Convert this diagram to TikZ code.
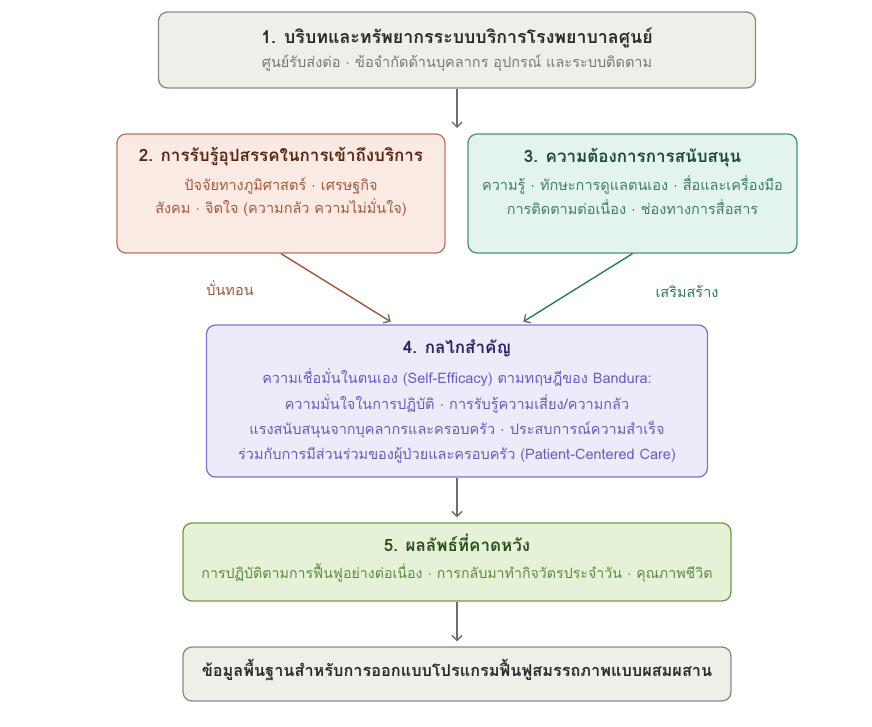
\documentclass[tikz,border=0pt]{standalone}
\usepackage{fontspec}
\newfontfamily\thaifont[Script=Thai]{Loma}
\newfontfamily\dotfont{Liberation Sans}
\newcommand{\mdot}{{\dotfont ·}}
\usetikzlibrary{positioning,arrows.meta}

\definecolor{greyfill}{HTML}{F0EEE8}
\definecolor{greyline}{HTML}{8C8A86}
\definecolor{greytext}{HTML}{7A7875}
\definecolor{darktext}{HTML}{2B2B2B}
\definecolor{redfill}{HTML}{FBEAE4}
\definecolor{redline}{HTML}{B9765E}
\definecolor{redtext}{HTML}{A5583A}
\definecolor{redtitle}{HTML}{5C2616}
\definecolor{greenfill}{HTML}{E2F4EC}
\definecolor{greenline}{HTML}{4A9275}
\definecolor{greentext}{HTML}{3F8063}
\definecolor{greentitle}{HTML}{1F4A38}
\definecolor{violetfill}{HTML}{EDEBFA}
\definecolor{violetline}{HTML}{7E74D0}
\definecolor{violettext}{HTML}{6A5BC0}
\definecolor{violettitle}{HTML}{2D2563}
\definecolor{limefill}{HTML}{E5F2D8}
\definecolor{limeline}{HTML}{6E9A4E}
\definecolor{limetext}{HTML}{5E8A3E}
\definecolor{limetitle}{HTML}{2F4F1F}
\definecolor{arrowgrey}{HTML}{6E6E6E}
\definecolor{redarrow}{HTML}{A0543A}
\definecolor{greenarrow}{HTML}{2D7A5A}

\tikzset{
  box/.style = {shape = rectangle, rounded corners = 9pt, line width = 1.3pt, inner sep = 0pt},
  ttl/.style = {font = \thaifont\bfseries\fontsize{17}{20}\selectfont, anchor = mid},
  txt/.style = {font = \thaifont\fontsize{14.5}{18}\selectfont, anchor = mid},
  link/.style = {line width = 1.4pt, -{Straight Barb[length=5pt, width=10pt, color=arrowgrey]}, shorten >= 5pt}
}

\begin{document}
\begin{tikzpicture}[x = 1pt, y = -1pt]
\useasboundingbox (0,0) rectangle (872,726);

% boxes
\node[box, draw = greyline, fill = greyfill, minimum width = 597pt, minimum height = 76pt] (b1) at (457,50) {};
\node[box, draw = redline, fill = redfill, minimum width = 328pt, minimum height = 119pt] (b2) at (281,193.5) {};
\node[box, draw = greenline, fill = greenfill, minimum width = 329pt, minimum height = 119pt] (b3) at (632.5,193.5) {};
\node[box, draw = violetline, fill = violetfill, minimum width = 501pt, minimum height = 152pt] (b4) at (457,401) {};
\node[box, draw = limeline, fill = limefill, minimum width = 548pt, minimum height = 78pt] (b5) at (457,562) {};
\node[box, draw = greyline, fill = greyfill, minimum width = 548pt, minimum height = 54pt] (b6) at (457,674) {};

% texts
\node[ttl, text = darktext, font = \thaifont\bfseries\fontsize{17.8}{20}\selectfont] (t1) at (457,41) {1. บริบทและทรัพยากรระบบบริการโรงพยาบาลศูนย์};
\node[txt, text = greytext] (s1) at (457,65) {ศูนย์รับส่งต่อ \mdot{} ข้อจำกัดด้านบุคลากร อุปกรณ์ และระบบติดตาม};

\node[ttl, text = redtitle] (t2) at (281,159) {2. การรับรู้อุปสรรคในการเข้าถึงบริการ};
\node[txt, text = redtext] (s2a) at (281,188) {ปัจจัยทางภูมิศาสตร์ \mdot{} เศรษฐกิจ};
\node[txt, text = redtext] (s2b) at (281,211) {สังคม \mdot{} จิตใจ (ความกลัว ความไม่มั่นใจ)};

\node[ttl, text = greentitle] (t3) at (632.5,160) {3. ความต้องการการสนับสนุน};
\node[txt, text = greentext] (s3a) at (632.5,188) {ความรู้ \mdot{} ทักษะการดูแลตนเอง \mdot{} สื่อและเครื่องมือ};
\node[txt, text = greentext] (s3b) at (632.5,212) {การติดตามต่อเนื่อง \mdot{} ช่องทางการสื่อสาร};

\node[ttl, text = violettitle] (t4) at (457,351) {4. กลไกสำคัญ};
\node[txt, text = violettext] (s4a) at (457,381) {ความเชื่อมั่นในตนเอง (Self-Efficacy) ตามทฤษฎีของ Bandura:};
\node[txt, text = violettext] (s4b) at (457,407) {ความมั่นใจในการปฏิบัติ \mdot{} การรับรู้ความเสี่ยง/ความกลัว};
\node[txt, text = violettext] (s4c) at (457,432) {แรงสนับสนุนจากบุคลากรและครอบครัว \mdot{} ประสบการณ์ความสำเร็จ};
\node[txt, text = violettext] (s4d) at (457,457) {ร่วมกับการมีส่วนร่วมของผู้ป่วยและครอบครัว (Patient-Centered Care)};

\node[ttl, text = limetitle] (t5) at (457,549) {5. ผลลัพธ์ที่คาดหวัง};
\node[txt, text = limetext, font = \thaifont\fontsize{14.2}{18}\selectfont] (s5) at (457,576) {การปฏิบัติตามการฟื้นฟูอย่างต่อเนื่อง \mdot{} การกลับมาทำกิจวัตรประจำวัน \mdot{} คุณภาพชีวิต};

\node[ttl, text = darktext, font = \thaifont\bfseries\fontsize{16.3}{20}\selectfont] (t6) at (457,674) {ข้อมูลพื้นฐานสำหรับการออกแบบโปรแกรมฟื้นฟูสมรรถภาพแบบผสมผสาน};

% connectors
\coordinate (fork) at (457,133);
\coordinate (b4l) at ([xshift=-62pt]b4.north);
\coordinate (b4r) at ([xshift=62pt]b4.north);
\draw[link, draw = arrowgrey] (b1) -- (fork);
\draw[link, draw = redarrow] (b2.south) -- (b4l);
\draw[link, draw = greenarrow] (b3.south) -- (b4r);
\draw[link, draw = arrowgrey] (b4) -- (b5);
\draw[link, draw = arrowgrey] (b5) -- (b6);

\node[txt, text = redarrow] (l1) at (230,293) {บั่นทอน};
\node[txt, text = greenarrow] (l2) at (687,295) {เสริมสร้าง};
\end{tikzpicture}
\end{document}
